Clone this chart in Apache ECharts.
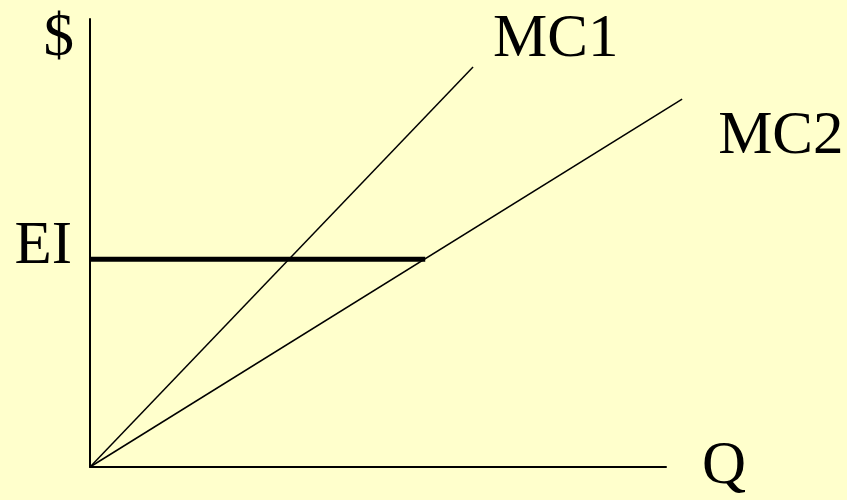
<!DOCTYPE html>
<html><head><meta charset="utf-8">
<script src="https://cdn.jsdelivr.net/npm/echarts@6/dist/echarts.min.js"></script>
<style>html,body{margin:0;padding:0;background:#FFFFCC;}#c{width:847px;height:500px;}</style>
</head><body><div id="c"></div>
<script>
const seriesNames = ['MC1', 'MC2', 'EI'];
const mc1 = [[0, 0], [66.5, 89.3]];
const mc2 = [[0, 0], [102.8, 82.1]];
const eiLevel = 46.4;
const ei = [[0, eiLevel], [58.2, eiLevel]];
const xName = 'Q';
const yName = '$';

const font = '"Liberation Serif", "Times New Roman", serif';
const hidden = {axisLine: {show: false}, axisTick: {show: false}, axisLabel: {show: false}, splitLine: {show: false}};
const chart = echarts.init(document.getElementById('c'));
chart.setOption({
  backgroundColor: '#FFFFCC',
  animation: false,
  grid: [
    {left: 90, right: 181, top: 19, bottom: 33},
    {left: 90, right: 123.4, top: 19, bottom: 33}
  ],
  xAxis: [{
    gridIndex: 0, type: 'value', min: 0, max: 100,
    name: xName, nameLocation: 'end', nameGap: 36,
    nameTextStyle: {fontFamily: font, fontSize: 61, color: '#000', verticalAlign: 'middle', padding: [4, 0, 0, 0]},
    axisLine: {lineStyle: {color: '#000', width: 2}},
    axisTick: {show: false}, axisLabel: {show: false}, splitLine: {show: false}
  }, Object.assign({gridIndex: 1, type: 'value', min: 0, max: 110}, hidden)],
  yAxis: [{
    gridIndex: 0, type: 'value', min: 0, max: 100,
    name: yName, nameLocation: 'end', nameGap: -20,
    nameTextStyle: {fontFamily: font, fontSize: 61, color: '#000', align: 'right', verticalAlign: 'middle', padding: [0, 16, 0, 0]},
    axisLine: {lineStyle: {color: '#000', width: 2}},
    axisTick: {show: false}, axisLabel: {show: false}, splitLine: {show: false}
  }, Object.assign({gridIndex: 1, type: 'value', min: 0, max: 100}, hidden)],
  series: [
    {name: seriesNames[0], type: 'line', xAxisIndex: 1, yAxisIndex: 1, data: mc1, symbol: 'none',
     lineStyle: {color: '#000', width: 1.5},
     endLabel: {show: true, formatter: seriesNames[0], distance: 0, offset: [20, -27],
       fontFamily: font, fontSize: 61, color: '#000', align: 'left', verticalAlign: 'middle'}},
    {name: seriesNames[1], type: 'line', xAxisIndex: 1, yAxisIndex: 1, data: mc2, symbol: 'none',
     lineStyle: {color: '#000', width: 1.5},
     endLabel: {show: true, formatter: seriesNames[1], distance: 0, offset: [36, 38],
       fontFamily: font, fontSize: 61, color: '#000', align: 'left', verticalAlign: 'middle'}},
    {name: seriesNames[2], type: 'line', xAxisIndex: 1, yAxisIndex: 1, data: ei, symbol: 'none',
     lineStyle: {color: '#000', width: 5},
     markPoint: {symbol: 'circle', symbolSize: 0, silent: true,
       data: [{coord: ei[0]}],
       label: {show: true, formatter: seriesNames[2], position: 'left', distance: 18, offset: [0, -12],
         fontFamily: font, fontSize: 61, color: '#000'}}}
  ]
});
</script>
</body></html>
